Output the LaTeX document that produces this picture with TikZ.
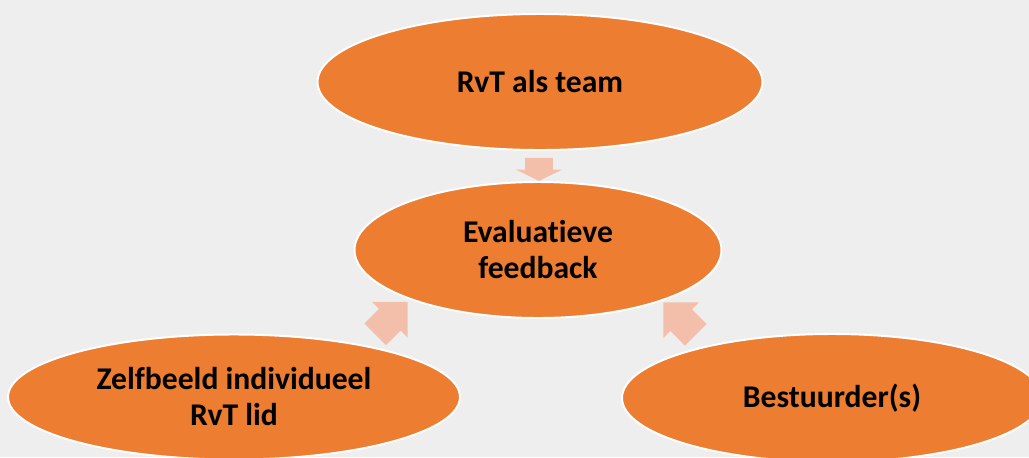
\documentclass[tikz,border=0pt]{standalone}
\usepackage{fontspec}
\setmainfont[Ligatures=NoCommon]{Carlito}
\usetikzlibrary{shapes.geometric,shapes.arrows,calc}
\definecolor{bgray}{HTML}{EEEEEE}
\definecolor{borange}{HTML}{ED7D31}
\definecolor{bsalmon}{HTML}{F4BFAA}
\begin{document}
\begin{tikzpicture}[x=0.02cm, y=-0.02cm,
    bubble/.style={ellipse, fill=borange, draw=white, line width=1.1pt, inner sep=0pt,
      align=center, font=\bfseries\fontsize{18}{20.5}\selectfont},
    feed/.style={single arrow, fill=bsalmon, inner xsep=0pt, inner ysep=0.3cm, minimum height=0.92cm,
      single arrow head extend=0.2cm, single arrow tip angle=90}]
  \fill[bgray] (0,0) rectangle (1029,457);
  \useasboundingbox (0,0) rectangle (1029,457);
  \node[bubble, minimum width=8.9cm, minimum height=2.72cm] (team) at (540,82) {RvT als team};
  \node[bubble, minimum width=7.34cm, minimum height=2.72cm] (eval) at (538,250) {Evaluatieve\\feedback};
  \node[bubble, minimum width=9.04cm, minimum height=2.5cm] (zelf) at (234,397) {Zelfbeeld individueel\\RvT lid};
  \node[bubble, minimum width=8.4cm, minimum height=2.56cm] (best) at (832,398) {Bestuurder(s)};
  \node[feed, rotate=-90, minimum height=0.46cm, inner ysep=0.27cm,
    single arrow head extend=0.18cm, single arrow tip angle=128] (a1) at ($(team.south)!0.5!(eval.north)$) {};
  \node[feed, rotate=45] (a2) at ($(zelf)!0.5!(eval)$) {};
  \node[feed, rotate=135] (a3) at ($(best)!0.5!(eval)$) {};
\end{tikzpicture}
\end{document}
